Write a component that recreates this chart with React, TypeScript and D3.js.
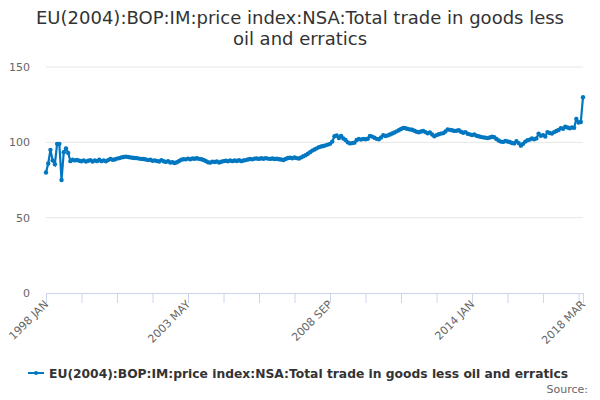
import React, {JSX} from "react";
import * as d3 from "d3";

const title = ["EU(2004):BOP:IM:price index:NSA:Total trade in goods less", "oil and erratics"]
const seriesName = "EU(2004):BOP:IM:price index:NSA:Total trade in goods less oil and erratics"
const monthNames = ["JAN", "FEB", "MAR", "APR", "MAY", "JUN", "JUL", "AUG", "SEP", "OCT", "NOV", "DEC"]
const yTicks = [0, 50, 100, 150]

// monthly values, 1998 JAN .. 2018 MAR
const values = [
    80, 86, 95, 88, 85.5, 99, 99, 75, 93.5, 96, 93, 87.5,
    88.5, 88, 88.3, 87.8, 87.4, 88, 87.2, 87.8, 88.2, 87.3, 88, 87.5,
    88.5, 87.5, 88, 87.4, 88.2, 89, 88.4, 88.6, 89.2, 89.5, 90, 90.3,
    90.5, 90.3, 90, 89.8, 89.6, 89.5, 89.2, 89, 88.9, 88.6, 88.2, 88.4,
    87.8, 88, 87.6, 87.3, 88.2, 87.4, 87, 87.5, 86.6, 86.8, 86.3, 86.8,
    87.6, 88.5, 88.8, 88.7, 89.2, 88.8, 89.3, 89.1, 89.4, 89, 88.8, 88.3,
    87.6, 86.8, 86.5, 87.2, 86.9, 87.3, 86.6, 87.1, 87.5, 87.8, 87.4, 88,
    87.5, 87.9, 87.6, 88.1, 87.5, 87.9, 88.2, 88.6, 88.9, 88.7, 89.2, 89.3,
    89, 89.4, 89.1, 89.5, 89.2, 89, 89.3, 88.9, 89.1, 88.8, 88.6, 88.3,
    88.9, 89.6, 89.8, 89.4, 89.9, 89.5, 89.3, 90, 90.8, 91.5, 92.4, 93.5,
    94.5, 95.2, 96, 96.8, 97.2, 97.6, 98, 98.5, 99, 100.5, 104, 104.5,
    102.8, 104.3, 102.5, 101.5, 100, 99.3, 99.5, 99.8, 101.5, 102.2, 101.8, 102.3,
    102, 102.4, 104.2, 103.8, 103, 102.3, 102, 103.2, 104.8, 104.2, 104.6, 105.2,
    105.9, 106.5, 107.3, 108, 108.8, 109.6, 109.3, 108.9, 108.6, 108.4, 107.7, 107,
    106.7, 107.2, 107.5, 106.8, 106, 106.6, 105.2, 104, 104.8, 105.4, 105.8, 106.1,
    107.2, 108.6, 108.3, 108, 107.6, 107.7, 108, 107, 106.4, 106.8, 105.7, 105.3,
    104.8, 105.2, 104.4, 104, 103.6, 103.3, 103.1, 102.8, 103.2, 103.7, 103.4, 102.2,
    101.2, 100.5, 100.3, 100.9, 100.6, 100.2, 99.6, 99.3, 100.8, 99.5, 97.8, 99,
    100.5, 101.4, 101.8, 102.5, 102, 102.6, 105.8, 104.3, 104.8, 103.9, 106.8, 106.2,
    105.8, 106.8, 107.5, 108.2, 109.4, 109, 110.3, 109.8, 109.3, 109.8, 109.6, 115.5,
    113.2, 113.5, 130
]
const categories = values.map((_, i) => `${1998 + Math.floor(i / 12)} ${monthNames[i % 12]}`)

export default function App(): JSX.Element {
    const width = 600
    const height = 400
    const marginLeft = 46
    const marginRight = 17
    const marginTop = 67
    const plotBottom = 293
    const font = "'DejaVu Sans', sans-serif"
    const color = "#0077c0"

    const x = d3.scaleLinear([0, values.length - 1], [marginLeft, width - marginRight])
    const y = d3.scaleLinear([0, 150], [plotBottom, marginTop])
    const line = d3.line<number>((d, i) => x(i), y)
    const last = values.length - 1
    const tickIdx = d3.range(0, last, 16).concat([last])
    const labelIdx = [0, 64, 128, 192, last]

    return (
        <svg width={width} height={height} style={{position: "absolute", left: 0, top: 0}} fontFamily={font}>
            <rect width={width} height={height} fill="white"/>
            <g fill="#333" fontSize={18} textAnchor="middle">
                {title.map((t, i) => <text key={i} x={width / 2} y={24 + i * 21}>{t}</text>)}
            </g>
            <g>
                {yTicks.map(t => (
                    <g key={t}>
                        {t > 0 && <line x1={marginLeft} x2={width - marginRight} y1={y(t)} y2={y(t)} stroke="#e6e6e6"/>}
                        <text x={30} y={y(t) + 4} textAnchor="end" fontSize={11} fill="#666">{t}</text>
                    </g>
                ))}
            </g>
            <line x1={marginLeft} x2={width - marginRight} y1={plotBottom + 0.5} y2={plotBottom + 0.5} stroke="#ccd6eb"/>
            {tickIdx.map(i => (
                <line key={i} x1={x(i) + 0.5} x2={x(i) + 0.5} y1={plotBottom} y2={plotBottom + 10} stroke="#ccd6eb"/>
            ))}
            {labelIdx.map(i => (
                <text key={i} transform={`translate(${x(i) + 3},${plotBottom + 12}) rotate(-45)`} textAnchor="end"
                      fontSize={11} fill="#666">{categories[i]}</text>
            ))}
            <path d={line(values) as string} fill="none" stroke={color} strokeWidth={2.2}/>
            <g fill={color}>
                {values.map((d, i) => <circle key={i} cx={x(i)} cy={y(d)} r={2.2}/>)}
            </g>
            <g>
                <line x1={28} x2={44} y1={373} y2={373} stroke={color} strokeWidth={2}/>
                <circle cx={36} cy={373} r={2} fill={color}/>
                <text x={49} y={377.5} fontSize={12.3} fontWeight="bold" fill="#333">{seriesName}</text>
            </g>
            <text x={588} y={393} textAnchor="end" fontSize={11} fill="#666">Source:</text>
        </svg>
    )
}
